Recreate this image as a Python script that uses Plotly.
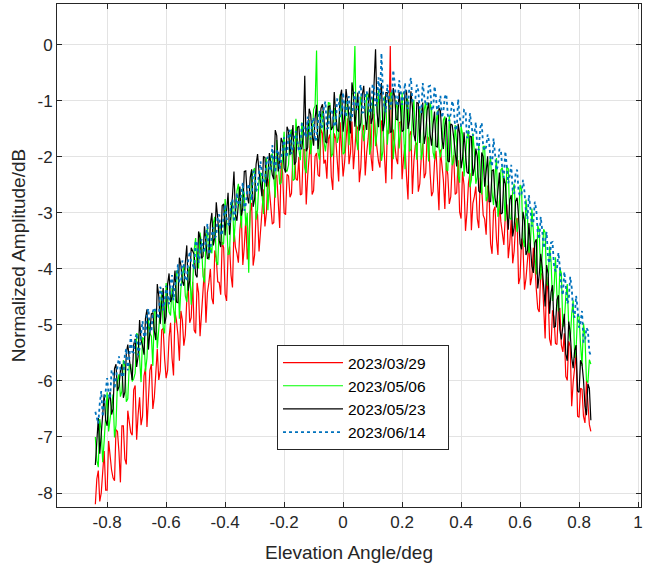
import plotly.graph_objects as go

# elevation angle samples (deg): main grid and the readings taken half-way between
angles = [
    -0.84, -0.83, -0.82, -0.81, -0.80, -0.79, -0.78, -0.77, -0.76, -0.75,
    -0.74, -0.73, -0.72, -0.71, -0.70, -0.69, -0.68, -0.67, -0.66, -0.65,
    -0.64, -0.63, -0.62, -0.61, -0.60, -0.59, -0.58, -0.57, -0.56, -0.55,
    -0.54, -0.53, -0.52, -0.51, -0.50, -0.49, -0.48, -0.47, -0.46, -0.45,
    -0.44, -0.43, -0.42, -0.41, -0.40, -0.39, -0.38, -0.37, -0.36, -0.35,
    -0.34, -0.33, -0.32, -0.31, -0.30, -0.29, -0.28, -0.27, -0.26, -0.25,
    -0.24, -0.23, -0.22, -0.21, -0.20, -0.19, -0.18, -0.17, -0.16, -0.15,
    -0.14, -0.13, -0.12, -0.11, -0.10, -0.09, -0.08, -0.07, -0.06, -0.05,
    -0.04, -0.03, -0.02, -0.01, 0.00, 0.01, 0.02, 0.03, 0.04, 0.05,
    0.06, 0.07, 0.08, 0.09, 0.10, 0.11, 0.12, 0.13, 0.14, 0.15,
    0.16, 0.17, 0.18, 0.19, 0.20, 0.21, 0.22, 0.23, 0.24, 0.25,
    0.26, 0.27, 0.28, 0.29, 0.30, 0.31, 0.32, 0.33, 0.34, 0.35,
    0.36, 0.37, 0.38, 0.39, 0.40, 0.41, 0.42, 0.43, 0.44, 0.45,
    0.46, 0.47, 0.48, 0.49, 0.50, 0.51, 0.52, 0.53, 0.54, 0.55,
    0.56, 0.57, 0.58, 0.59, 0.60, 0.61, 0.62, 0.63, 0.64, 0.65,
    0.66, 0.67, 0.68, 0.69, 0.70, 0.71, 0.72, 0.73, 0.74, 0.75,
    0.76, 0.77, 0.78, 0.79, 0.80, 0.81, 0.82, 0.83, 0.84,
]

angles_mid = [
    -0.835, -0.825, -0.815, -0.805, -0.795, -0.785, -0.775, -0.765, -0.755, -0.745,
    -0.735, -0.725, -0.715, -0.705, -0.695, -0.685, -0.675, -0.665, -0.655, -0.645,
    -0.635, -0.625, -0.615, -0.605, -0.595, -0.585, -0.575, -0.565, -0.555, -0.545,
    -0.535, -0.525, -0.515, -0.505, -0.495, -0.485, -0.475, -0.465, -0.455, -0.445,
    -0.435, -0.425, -0.415, -0.405, -0.395, -0.385, -0.375, -0.365, -0.355, -0.345,
    -0.335, -0.325, -0.315, -0.305, -0.295, -0.285, -0.275, -0.265, -0.255, -0.245,
    -0.235, -0.225, -0.215, -0.205, -0.195, -0.185, -0.175, -0.165, -0.155, -0.145,
    -0.135, -0.125, -0.115, -0.105, -0.095, -0.085, -0.075, -0.065, -0.055, -0.045,
    -0.035, -0.025, -0.015, -0.005, 0.005, 0.015, 0.025, 0.035, 0.045, 0.055,
    0.065, 0.075, 0.085, 0.095, 0.105, 0.115, 0.125, 0.135, 0.145, 0.155,
    0.165, 0.175, 0.185, 0.195, 0.205, 0.215, 0.225, 0.235, 0.245, 0.255,
    0.265, 0.275, 0.285, 0.295, 0.305, 0.315, 0.325, 0.335, 0.345, 0.355,
    0.365, 0.375, 0.385, 0.395, 0.405, 0.415, 0.425, 0.435, 0.445, 0.455,
    0.465, 0.475, 0.485, 0.495, 0.505, 0.515, 0.525, 0.535, 0.545, 0.555,
    0.565, 0.575, 0.585, 0.595, 0.605, 0.615, 0.625, 0.635, 0.645, 0.655,
    0.665, 0.675, 0.685, 0.695, 0.705, 0.715, 0.725, 0.735, 0.745, 0.755,
    0.765, 0.775, 0.785, 0.795, 0.805, 0.815, 0.825, 0.835,
]

# normalized amplitude (dB), 2023/03/29
amp_0329 = [
    -8.20, -7.60, -8.00, -7.25, -7.95, -7.39, -7.73, -6.87, -7.26, -6.80,
    -7.39, -6.53, -6.92, -6.16, -7.05, -6.29, -6.63, -5.77, -6.16, -5.70,
    -6.29, -5.43, -5.82, -5.06, -5.95, -5.22, -5.59, -4.76, -5.18, -4.75,
    -5.37, -4.54, -4.96, -4.23, -5.15, -4.43, -4.81, -3.99, -4.42, -4.00,
    -4.63, -3.81, -4.24, -3.52, -4.45, -3.73, -4.11, -3.29, -3.72, -3.30,
    -3.93, -3.11, -3.54, -2.82, -3.75, -3.03, -3.40, -2.58, -3.00, -2.58,
    -3.20, -2.38, -2.80, -2.08, -3.00, -2.31, -2.72, -1.93, -2.39, -2.00,
    -2.66, -1.87, -2.33, -1.64, -2.60, -1.93, -2.35, -1.58, -2.05, -1.68,
    -2.35, -1.58, -2.05, -1.38, -2.35, -1.69, -2.13, -1.37, -1.86, -1.50,
    -2.19, -1.43, -1.92, -1.26, -2.25, -1.62, -2.08, -1.35, -1.86, -1.53,
    -0.02, -1.51, -2.02, -1.39, -2.40, -1.78, -2.76, -1.54, -2.07, -1.75,
    -2.48, -1.76, -2.29, -1.67, -2.70, -2.09, -2.58, -1.87, -2.41, -2.10,
    -2.84, -2.13, -2.67, -2.06, -3.10, -2.50, -2.99, -2.29, -2.83, -2.53,
    -3.27, -2.57, -3.11, -2.51, -3.55, -2.96, -3.47, -2.78, -3.34, -3.05,
    -3.81, -3.12, -3.68, -3.09, -4.15, -3.61, -4.17, -3.53, -4.14, -3.90,
    -4.71, -4.07, -4.68, -4.14, -5.25, -4.74, -5.33, -4.72, -5.36, -5.15,
    -5.99, -5.38, -6.02, -5.51, -6.65, -6.15, -6.75, -6.35, -6.90,
]
amp_0329_mid = [
    -7.75, -8.15, -7.70, -7.95, -7.07, -7.59, -7.78, -6.90, -7.81, -6.80,
    -7.49, -6.73, -6.97, -6.08, -6.60, -6.79, -5.91, -6.82, -5.81, -6.50,
    -5.74, -5.98, -5.09, -5.61, -5.81, -4.96, -5.90, -4.92, -5.64, -4.91,
    -5.18, -4.32, -4.87, -5.09, -4.25, -5.20, -4.23, -4.96, -4.24, -4.52,
    -3.67, -4.23, -4.46, -3.62, -4.57, -3.60, -4.33, -3.61, -3.89, -3.04,
    -3.60, -3.83, -2.99, -3.94, -2.97, -3.69, -2.97, -3.24, -2.39, -2.94,
    -3.17, -2.32, -3.27, -2.29, -3.03, -2.34, -2.65, -1.83, -2.42, -2.68,
    -1.87, -2.85, -1.91, -2.67, -1.99, -2.32, -1.51, -2.12, -2.39, -1.60,
    -2.59, -1.67, -2.44, -1.77, -2.10, -1.31, -1.93, -2.22, -1.44, -2.45,
    -1.54, -2.33, -1.67, -2.01, -1.23, -1.88, -2.19, -1.44, -2.47, -1.59,
    -2.40, -1.77, -2.13, -1.37, -2.02, -2.35, -1.61, -2.66, -1.79, -2.62,
    -2.00, -2.38, -1.63, -2.29, -2.62, -1.89, -2.95, -2.09, -2.93, -2.32,
    -2.71, -1.97, -2.64, -2.98, -2.26, -3.32, -2.47, -3.31, -2.71, -3.10,
    -2.37, -3.04, -3.39, -2.66, -3.73, -2.89, -3.75, -3.16, -3.57, -2.85,
    -3.54, -3.90, -3.19, -4.27, -3.46, -4.37, -3.83, -4.29, -3.62, -4.36,
    -4.77, -4.11, -5.24, -4.45, -5.37, -4.86, -5.35, -4.71, -5.48, -5.92,
    -5.29, -6.45, -5.69, -6.63, -6.13, -6.63, -6.00, -6.78,
]

# normalized amplitude (dB), 2023/05/06
amp_0506 = [
    -7.00, -7.54, -6.88, -7.06, -6.20, -6.70, -6.24, -6.79, -5.88, -6.18,
    -5.72, -6.32, -5.71, -5.96, -5.15, -5.66, -5.22, -5.83, -4.89, -5.20,
    -4.76, -5.42, -4.78, -5.04, -4.25, -4.77, -4.34, -4.96, -4.03, -4.35,
    -3.92, -4.59, -3.96, -4.28, -3.45, -3.98, -3.56, -4.24, -3.27, -3.60,
    -3.18, -3.86, -3.24, -3.57, -2.75, -3.74, -2.88, -3.52, -2.61, -2.95,
    -2.54, -3.23, -4.07, -2.41, -2.20, -2.94, -2.28, -3.02, -2.01, -2.45,
    -1.94, -2.73, -2.02, -2.46, -1.55, -2.26, -1.61, -2.42, -1.32, -1.88,
    -1.38, -2.19, -1.44, -1.95, -1.15, -0.10, -2.05, -1.18, -1.90, -1.03,
    -2.00, -1.13, -1.75, -0.88, -1.95, -1.00, -1.79, -0.89, -0.02, -1.88,
    -0.92, -1.72, -0.86, -1.96, -0.95, -1.81, -0.81, -2.07, -0.92, -1.78,
    -0.88, -2.04, -0.99, -1.85, -0.85, -2.22, -0.99, -1.86, -0.98, -2.05,
    -1.12, -1.89, -1.01, -2.08, -1.15, -2.04, -1.17, -2.01, -1.34, -2.23,
    -1.26, -2.15, -1.43, -2.32, -1.45, -2.35, -1.64, -2.54, -1.58, -2.48,
    -1.77, -2.67, -1.81, -2.71, -2.00, -2.86, -2.02, -2.88, -2.19, -3.15,
    -2.21, -3.12, -2.48, -3.34, -2.50, -3.46, -2.76, -3.72, -2.92, -3.83,
    -3.23, -4.19, -3.29, -4.25, -3.60, -4.57, -3.79, -4.76, -4.08, -4.95,
    -4.27, -5.29, -4.56, -5.43, -4.85, -5.73, -5.20, -6.03, -5.70,
]
amp_0506_mid = [
    -7.42, -6.68, -7.45, -6.61, -6.90, -6.45, -7.01, -6.01, -6.28, -5.63,
    -6.37, -5.72, -6.01, -5.86, -5.18, -6.02, -5.26, -5.59, -5.15, -5.73,
    -4.74, -5.03, -4.39, -5.15, -4.51, -4.83, -4.70, -4.04, -4.89, -4.14,
    -4.48, -4.05, -4.64, -3.66, -3.97, -3.35, -4.13, -3.51, -3.84, -3.72,
    -3.07, -3.93, -3.19, -3.54, -3.12, -3.73, -2.77, -3.09, -2.48, -3.27,
    -2.66, -3.00, -2.89, -2.25, -3.12, -2.39, -2.75, -2.34, -2.95, -1.99,
    -2.31, -1.70, -2.49, -1.88, -2.23, -2.14, -1.51, -2.40, -1.68, -2.06,
    -1.66, -2.29, -1.34, -1.68, -1.09, -1.92, -1.34, -1.72, -1.64, -1.04,
    -1.94, -1.25, -1.64, -1.27, -1.92, -1.02, -1.39, -0.84, -1.68, -1.13,
    -1.52, -1.47, -0.88, -1.81, -1.14, -1.56, -1.22, -1.89, -1.00, -1.38,
    -0.84, -1.69, -1.15, -1.55, -1.51, -0.95, -1.90, -1.25, -1.69, -1.36,
    -2.05, -1.17, -1.57, -1.04, -1.92, -1.41, -1.84, -1.83, -1.28, -2.25,
    -1.61, -2.07, -1.75, -2.46, -1.60, -2.02, -1.52, -2.41, -1.91, -2.35,
    -2.35, -1.81, -2.79, -2.16, -2.63, -2.34, -3.07, -2.23, -2.67, -2.18,
    -3.09, -2.60, -3.06, -3.07, -2.58, -3.61, -3.05, -3.57, -3.33, -4.10,
    -3.31, -3.79, -3.35, -4.30, -3.86, -4.38, -4.45, -3.99, -5.04, -4.49,
    -5.03, -4.80, -5.59, -4.81, -5.34, -4.97, -5.99, -5.62,
]

# normalized amplitude (dB), 2023/05/23
amp_0523 = [
    -7.50, -6.66, -6.93, -6.24, -6.80, -6.20, -6.50, -5.70, -6.10, -5.70,
    -6.20, -5.35, -5.80, -5.35, -5.75, -4.91, -5.37, -4.88, -5.44, -4.80,
    -5.11, -4.27, -4.98, -4.34, -4.85, -4.08, -4.50, -4.03, -4.60, -3.93,
    -4.30, -3.58, -4.20, -3.68, -4.10, -3.33, -3.81, -3.24, -3.82, -3.20,
    -3.58, -2.81, -3.49, -2.87, -3.40, -2.64, -3.07, -2.26, -3.14, -2.53,
    -2.91, -2.25, -2.83, -2.22, -2.75, -1.95, -2.49, -1.99, -2.53, -1.93,
    -2.32, -1.52, -2.26, -1.66, -2.20, -1.46, -1.97, -1.43, -2.09, -1.45,
    -1.86, -0.55, -1.83, -1.24, -1.80, -1.07, -1.59, -1.06, -1.73, -1.10,
    -1.52, -0.84, -1.51, -0.93, -1.55, -0.79, -1.33, -0.67, -1.46, -0.85,
    -1.39, -0.73, -1.52, -0.76, -1.30, -0.08, -1.47, -0.68, -1.39, -0.85,
    -1.56, -0.77, -1.33, -0.84, -1.55, -0.83, -1.50, -0.83, -1.60, -1.03,
    -1.75, -1.03, -1.60, -1.03, -1.80, -1.19, -1.83, -1.17, -1.86, -1.30,
    -2.09, -1.43, -1.97, -1.41, -2.20, -1.56, -2.27, -1.63, -2.34, -1.85,
    -2.61, -1.92, -2.53, -1.99, -2.80, -2.23, -2.90, -2.28, -3.00, -2.48,
    -3.30, -2.68, -3.25, -2.73, -3.55, -2.98, -3.75, -3.18, -3.95, -3.53,
    -4.35, -3.73, -4.40, -3.93, -4.80, -4.29, -5.03, -4.47, -5.26, -4.80,
    -5.64, -5.13, -5.77, -5.36, -6.20, -5.70, -6.45, -6.05, -6.70,
]
amp_0523_mid = [
    -7.01, -7.30, -6.49, -6.70, -6.35, -6.60, -5.78, -6.18, -5.82, -6.30,
    -5.50, -5.60, -5.98, -5.25, -5.56, -5.27, -5.53, -4.72, -5.13, -4.78,
    -5.27, -4.48, -4.59, -4.98, -4.27, -4.59, -4.32, -4.59, -3.80, -4.22,
    -3.89, -4.39, -3.62, -3.74, -4.15, -3.45, -3.78, -3.51, -3.79, -3.00,
    -3.43, -3.10, -3.61, -2.84, -2.97, -3.39, -2.69, -3.03, -2.76, -3.05,
    -2.26, -2.70, -2.37, -2.89, -2.13, -2.27, -2.70, -2.01, -2.36, -2.10,
    -2.40, -1.62, -2.07, -1.75, -2.28, -1.54, -1.70, -2.14, -1.47, -1.83,
    -1.59, -1.90, -1.14, -1.60, -1.31, -1.86, -1.13, -1.30, -1.75, -1.09,
    -1.46, -1.23, -1.55, -0.80, -1.28, -1.01, -1.58, -0.87, -1.06, -1.53,
    -0.89, -1.28, -1.07, -1.41, -0.69, -1.20, -0.95, -1.54, -0.85, -1.06,
    -1.55, -0.93, -1.34, -1.15, -1.52, -0.82, -1.35, -1.11, -1.72, -1.04,
    -1.27, -1.77, -1.17, -1.59, -1.42, -1.81, -1.13, -1.67, -1.45, -2.07,
    -1.41, -1.65, -2.17, -1.58, -2.03, -1.89, -2.30, -1.64, -2.20, -2.00,
    -2.64, -2.00, -2.26, -2.80, -2.24, -2.72, -2.59, -3.02, -2.37, -2.95,
    -2.76, -3.42, -2.79, -3.07, -3.65, -3.14, -3.67, -3.59, -4.07, -3.47,
    -4.10, -3.96, -4.67, -4.09, -4.42, -5.04, -4.55, -5.09, -5.03, -5.52,
    -4.94, -5.58, -5.46, -6.18, -5.63, -5.98, -6.61, -6.13,
]

# normalized amplitude (dB), 2023/06/14
amp_0614 = [
    -6.55, -6.76, -6.18, -6.39, -5.95, -6.32, -5.83, -5.95, -5.56, -5.93,
    -5.54, -5.81, -5.17, -5.49, -5.15, -5.42, -4.93, -5.20, -4.71, -5.13,
    -4.69, -4.81, -4.32, -4.74, -4.30, -4.63, -4.11, -4.29, -3.92, -4.30,
    -3.93, -4.21, -3.69, -3.92, -3.50, -3.89, -3.47, -3.71, -3.19, -3.68,
    -3.26, -3.40, -3.03, -3.37, -2.85, -3.19, -2.82, -3.16, -2.64, -2.83,
    -2.46, -2.85, -2.48, -2.77, -2.25, -2.54, -2.08, -2.47, -2.06, -2.25,
    -1.79, -2.28, -1.87, -2.06, -1.65, -2.01, -1.52, -1.83, -1.54, -1.90,
    -1.41, -1.62, -1.28, -1.69, -1.30, -1.67, -1.18, -1.45, -1.01, -1.48,
    -1.14, -1.46, -0.97, -1.29, -0.85, -1.29, -0.92, -1.31, -0.84, -1.13,
    -0.71, -1.20, -0.83, -1.22, -0.70, -1.09, -0.58, -0.15, -1.12, -0.71,
    -1.15, -0.45, -1.04, -0.63, -1.07, -0.68, -1.14, -0.59, -1.00, -0.71,
    -1.17, -0.68, -1.08, -0.74, -1.15, -0.74, -1.27, -0.91, -1.19, -0.88,
    -1.36, -1.00, -1.48, -0.97, -1.45, -1.16, -1.66, -1.22, -1.62, -1.38,
    -1.88, -1.39, -1.89, -1.60, -2.05, -1.67, -2.24, -1.86, -2.23, -1.90,
    -2.47, -2.14, -2.66, -2.23, -2.70, -2.41, -2.97, -2.68, -3.24, -2.80,
    -3.36, -3.07, -3.63, -3.34, -3.90, -3.52, -4.04, -3.71, -4.33, -4.05,
    -4.62, -4.14, -4.76, -4.48, -5.05, -4.75, -5.30, -5.10, -5.55,
]
amp_0614_mid = [
    -6.68, -6.40, -6.64, -6.20, -6.23, -5.81, -6.14, -5.78, -5.79, -5.91,
    -5.42, -5.62, -5.48, -5.25, -5.54, -5.16, -5.21, -4.79, -5.12, -4.76,
    -4.77, -4.89, -4.40, -4.60, -4.47, -4.25, -4.56, -4.19, -4.26, -3.85,
    -4.20, -3.85, -3.88, -4.01, -3.54, -3.76, -3.64, -3.43, -3.74, -3.38,
    -3.45, -3.05, -3.40, -3.06, -3.09, -3.23, -2.76, -2.98, -2.86, -2.65,
    -2.96, -2.60, -2.67, -2.27, -2.62, -2.28, -2.32, -2.46, -2.00, -2.22,
    -2.11, -1.90, -2.22, -1.86, -1.95, -1.57, -1.95, -1.63, -1.69, -1.85,
    -1.41, -1.65, -1.56, -1.37, -1.72, -1.38, -1.49, -1.11, -1.50, -1.18,
    -1.25, -1.41, -0.98, -1.22, -1.15, -0.98, -1.35, -1.03, -1.16, -0.80,
    -1.21, -0.91, -1.00, -1.18, -0.77, -1.04, -0.98, -0.83, -1.20, -0.89,
    -1.02, -0.68, -1.09, -0.80, -0.90, -1.11, -0.71, -1.00, -0.96, -0.82,
    -1.21, -0.91, -1.06, -0.73, -1.17, -0.93, -1.06, -1.30, -0.93, -1.25,
    -1.23, -1.12, -1.53, -1.27, -1.45, -1.17, -1.64, -1.42, -1.57, -1.83,
    -1.48, -1.82, -1.82, -1.73, -2.17, -1.94, -2.15, -1.88, -2.37, -2.16,
    -2.33, -2.60, -2.27, -2.62, -2.66, -2.62, -3.11, -2.92, -3.17, -2.94,
    -3.47, -3.30, -3.51, -3.82, -3.53, -3.93, -4.00, -3.97, -4.47, -4.29,
    -4.55, -4.33, -4.87, -4.71, -4.95, -5.30, -5.05, -5.48,
]

dates = ["2023/03/29", "2023/05/06", "2023/05/23", "2023/06/14"]
x_ticks = [-0.8, -0.6, -0.4, -0.2, 0, 0.2, 0.4, 0.6, 0.8, 1]
x_tick_text = ["-0.8", "-0.6", "-0.4", "-0.2", "0", "0.2", "0.4", "0.6", "0.8", "1"]
y_ticks = [-8, -7, -6, -5, -4, -3, -2, -1, 0]
y_tick_text = ["-8", "-7", "-6", "-5", "-4", "-3", "-2", "-1", "0"]


def weave(main, mid):
    # put the half-step readings back in angle order
    out = []
    for a, b in zip(main, mid):
        out += [a, b]
    return out + main[len(mid):]


x_all = weave(angles, angles_mid)
series = [
    weave(amp_0329, amp_0329_mid),
    weave(amp_0506, amp_0506_mid),
    weave(amp_0523, amp_0523_mid),
    weave(amp_0614, amp_0614_mid),
]
styles = [
    dict(color="#ff0000", width=1.2),
    dict(color="#00ff00", width=1.2),
    dict(color="#000000", width=1.2),
    dict(color="#0072bd", width=1.8, dash="dot"),
]

fig = go.Figure()
for name, amp, line in zip(dates, series, styles):
    fig.add_trace(go.Scatter(
        x=x_all, y=amp, mode="lines", line=line,
        name=name + "\u00a0\u00a0\u00a0\u00a0",
    ))

axis_color = "#262626"
font = "Liberation Sans, Arial, sans-serif"

fig.update_layout(
    width=646,
    height=570,
    margin=dict(l=57, r=5, t=4, b=63),
    plot_bgcolor="white",
    paper_bgcolor="white",
    font=dict(family=font, color=axis_color, size=17),
    legend=dict(
        x=0.3767, y=0.322, xanchor="left", yanchor="top",
        bgcolor="white", bordercolor=axis_color, borderwidth=1,
        font=dict(size=15.5, color="#000000"),
        itemwidth=60, tracegroupgap=0,
    ),
)

common = dict(
    showline=True, linecolor=axis_color, linewidth=1, mirror="ticks",
    ticks="inside", ticklen=5, tickcolor=axis_color, automargin=False,
    showgrid=True, gridcolor="#e3e3e3", gridwidth=1, zeroline=False,
)
fig.update_xaxes(
    range=[-0.97, 1.01], tickvals=x_ticks, ticktext=x_tick_text,
    title=dict(text="Elevation Angle/deg", font=dict(size=19), standoff=14),
    **common,
)
fig.update_yaxes(
    range=[-8.25, 0.73], tickvals=y_ticks, ticktext=y_tick_text,
    title=dict(text="Normalized Amplitude/dB", font=dict(size=19), standoff=6),
    **common,
)

fig.write_html(
    "out.html",
    config=dict(displayModeBar=False),
    post_script="document.body.style.margin = '0';",
)
